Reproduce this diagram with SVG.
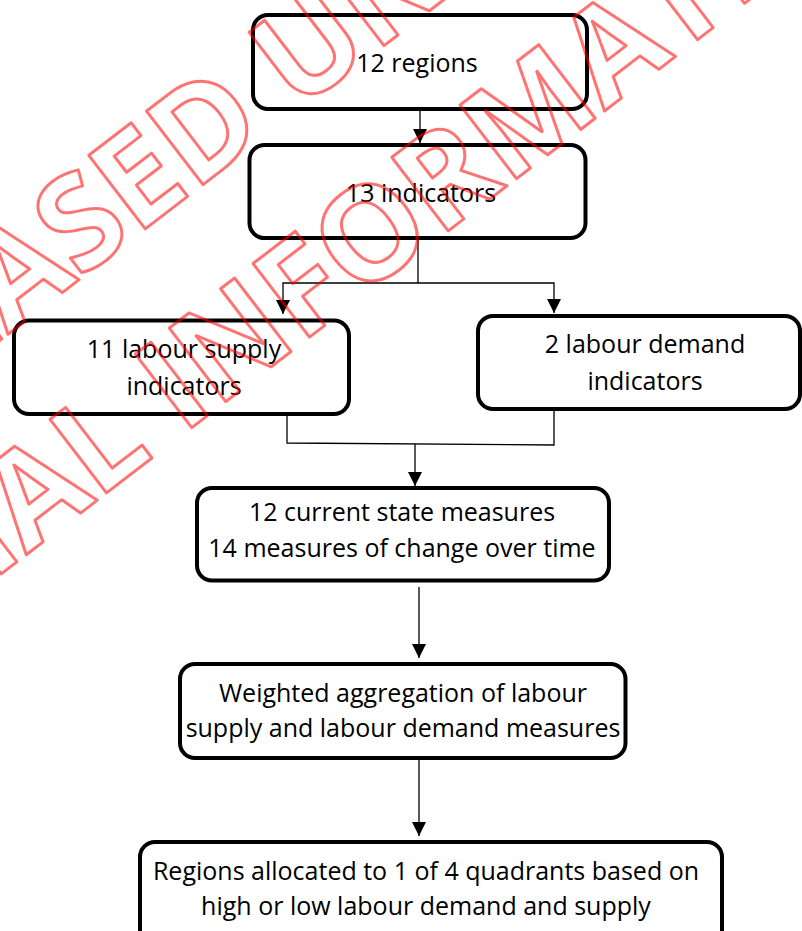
<svg xmlns="http://www.w3.org/2000/svg" width="802" height="931" viewBox="0 0 802 931">
<style>
.box{fill:#ffffff;stroke:#000000;stroke-width:4}
.lbl{font-family:"Open Sans","Noto Sans","DejaVu Sans",sans-serif;font-size:25px;fill:#000000;text-anchor:middle}
.con{fill:none;stroke:#000000;stroke-width:1.3}
.wm{font-family:"Open Sans","Noto Sans","DejaVu Sans",sans-serif;font-weight:bold;font-size:130px;fill:none;stroke:#ff0000;stroke-opacity:0.55;stroke-width:3;stroke-linejoin:round}
</style>
<defs>
<marker id="arr" markerUnits="userSpaceOnUse" markerWidth="16" markerHeight="16" viewBox="0 0 16 16" refX="14" refY="8" orient="auto">
<path d="M0,1 L14,8 L0,15 Z" fill="#000000"/>
</marker>
</defs>
<rect width="802" height="931" fill="#ffffff"/>
<g id="connectors">
<path class="con" d="M420,109 V143" marker-end="url(#arr)"/>
<path class="con" d="M418,238 V283 H283 V314" marker-end="url(#arr)"/>
<path class="con" d="M418,283 H554 V313" marker-end="url(#arr)"/>
<path class="con" d="M287,414 V443 L554,445 V409"/>
<path class="con" d="M415,444 V486" marker-end="url(#arr)"/>
<path class="con" d="M419,587 V658" marker-end="url(#arr)"/>
<path class="con" d="M419,758 V836" marker-end="url(#arr)"/>
</g>
<g id="n1"><rect class="box" x="253" y="15" width="334" height="94" rx="15"/><text class="lbl" x="417" y="72">12 regions</text></g>
<g id="n2"><rect class="box" x="249.5" y="145" width="336" height="93" rx="15"/><text class="lbl" x="421" y="202">13 indicators</text></g>
<g id="n3"><rect class="box" x="14" y="320.5" width="335" height="93.5" rx="15"/><text class="lbl" x="184" y="358">11 labour supply</text><text class="lbl" x="184" y="395">indicators</text></g>
<g id="n4"><rect class="box" x="478" y="316" width="322" height="93" rx="15"/><text class="lbl" x="645" y="353">2 labour demand</text><text class="lbl" x="645" y="390">indicators</text></g>
<g id="n5"><rect class="box" x="197" y="488" width="412" height="92.5" rx="15"/><text class="lbl" x="402" y="521">12 current state measures</text><text class="lbl" x="402" y="557">14 measures of change over time</text></g>
<g id="n6"><rect class="box" x="180" y="664" width="445.5" height="94" rx="15"/><text class="lbl" x="403" y="702">Weighted aggregation of labour</text><text class="lbl" x="403" y="737">supply and labour demand measures</text></g>
<g id="n7"><rect class="box" x="140" y="842" width="582" height="110" rx="15"/><text class="lbl" x="426" y="880">Regions allocated to 1 of 4 quadrants based on</text><text class="lbl" x="426" y="915">high or low labour demand and supply</text></g>
<g id="watermark" transform="rotate(-37.5)">
<text class="wm" x="-502" y="270">RELEASED UNDER THE</text>
<text class="wm" x="-732" y="456">OFFICIAL INFORMATION ACT</text>
</g>
</svg>
